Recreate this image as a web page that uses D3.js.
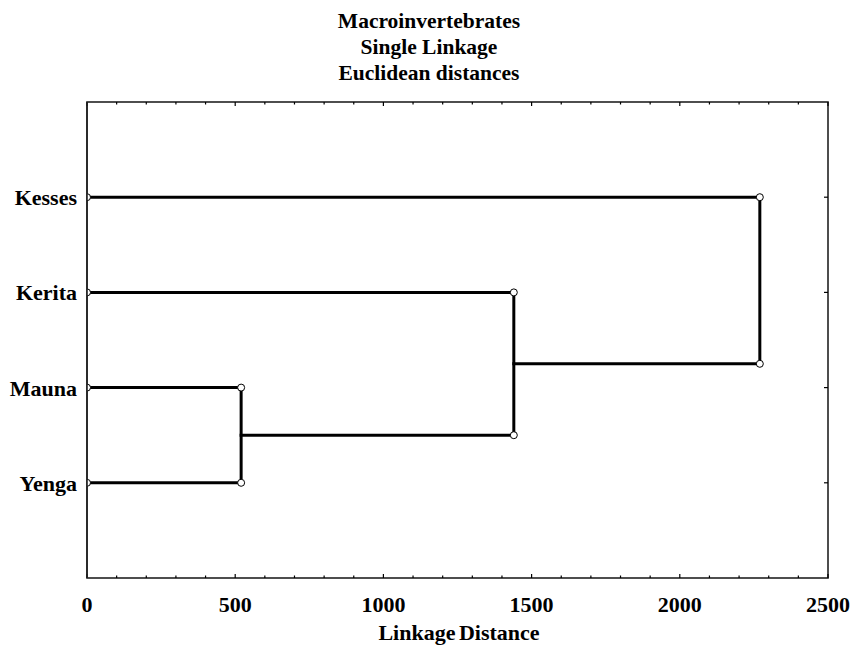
<!DOCTYPE html>
<html>
<head>
    <title>Dendrogram</title>
    <script src="https://d3js.org/d3.v7.min.js"></script>
    <style>
        body { margin: 0; background: #fff; }
        text { font-family: "Liberation Serif", "Times New Roman", serif; font-weight: bold; fill: #000; }
    </style>
</head>
<body>

<script>
// leaves from top to bottom
const leaves = ['Kesses', 'Kerita', 'Mauna', 'Yenga'];
// merge steps: [left cluster, right cluster, linkage distance]
const merges = [
    ['Mauna', 'Yenga', 520],
    ['Kerita', 'Mauna+Yenga', 1440],
    ['Kesses', 'Kerita+Mauna+Yenga', 2270]
];
const xTicks = [0, 500, 1000, 1500, 2000, 2500];
const titleLines = ['Macroinvertebrates', 'Single Linkage', 'Euclidean distances'];

const W = 856, H = 651;
const margin = { top: 102, right: 28, bottom: 73, left: 87 };

const svg = d3.select('body')
    .append('svg')
    .attr('width', W)
    .attr('height', H);

const x = d3.scaleLinear().domain([0, 2500]).range([margin.left, W - margin.right]);
const y = d3.scaleLinear().domain([0, leaves.length + 1]).range([margin.top, H - margin.bottom]);

svg.append('clipPath')
    .attr('id', 'plot')
    .append('rect')
    .attr('x', x(0)).attr('y', y(0))
    .attr('width', x(2500) - x(0))
    .attr('height', y(5) - y(0));

// title
svg.selectAll('.title')
    .data(titleLines)
    .enter()
    .append('text')
    .attr('x', 429)
    .attr('y', (d, i) => 28 + i * 26)
    .attr('text-anchor', 'middle')
    .style('font-size', '21.5px')
    .text(d => d);

// frame
svg.append('rect')
    .attr('x', x(0))
    .attr('y', y(0))
    .attr('width', x(2500) - x(0))
    .attr('height', y(5) - y(0))
    .attr('fill', 'none')
    .attr('stroke', '#222')
    .attr('stroke-width', 1.6);

// minor and major ticks on bottom and top
const minor = d3.range(0, 2501, 100);
svg.selectAll('.tb')
    .data(minor)
    .enter()
    .append('line')
    .attr('x1', d => x(d)).attr('x2', d => x(d))
    .attr('y1', y(5)).attr('y2', d => y(5) - (d % 500 === 0 ? 4 : 2.5))
    .attr('stroke', '#000').attr('stroke-width', 1.2);
svg.selectAll('.tt')
    .data(minor)
    .enter()
    .append('line')
    .attr('x1', d => x(d)).attr('x2', d => x(d))
    .attr('y1', y(0)).attr('y2', d => y(0) + (d % 500 === 0 ? 4 : 2.5))
    .attr('stroke', '#000').attr('stroke-width', 1.2);

// right side ticks at leaf rows
svg.selectAll('.tr')
    .data(leaves)
    .enter()
    .append('line')
    .attr('x1', x(2500)).attr('x2', x(2500) - 4)
    .attr('y1', (d, i) => y(i + 1)).attr('y2', (d, i) => y(i + 1))
    .attr('stroke', '#000').attr('stroke-width', 1.2);

// x tick labels
svg.selectAll('.xl')
    .data(xTicks)
    .enter()
    .append('text')
    .attr('x', d => x(d))
    .attr('y', 612)
    .attr('text-anchor', 'middle')
    .style('font-size', '22px')
    .text(d => d);

svg.append('text')
    .attr('x', 459)
    .attr('y', 640)
    .attr('text-anchor', 'middle')
    .style('font-size', '22px')
    .style('word-spacing', '-2px')
    .text('Linkage Distance');

// leaf labels
svg.selectAll('.yl')
    .data(leaves)
    .enter()
    .append('text')
    .attr('x', 77)
    .attr('y', (d, i) => y(i + 1) + 8)
    .attr('text-anchor', 'end')
    .style('font-size', '22px')
    .text(d => d);

// build cluster positions
const pos = {};
leaves.forEach((d, i) => { pos[d] = { h: 0, y: y(i + 1) }; });

const segs = [];
const dots = [];
leaves.forEach(d => dots.push([x(0), pos[d].y]));

merges.forEach(([a, b, h]) => {
    const A = pos[a], B = pos[b];
    const xh = x(h);
    segs.push([x(A.h), A.y, xh, A.y]);
    segs.push([x(B.h), B.y, xh, B.y]);
    segs.push([xh, A.y, xh, B.y]);
    dots.push([xh, A.y], [xh, B.y]);
    pos[a + '+' + b] = { h: h, y: (A.y + B.y) / 2 };
});

const g = svg.append('g').attr('clip-path', 'url(#plot)');

g.selectAll('.seg')
    .data(segs)
    .enter()
    .append('line')
    .attr('x1', d => d[0]).attr('y1', d => d[1])
    .attr('x2', d => d[2]).attr('y2', d => d[3])
    .attr('stroke', '#000')
    .attr('stroke-width', 3)
    .attr('stroke-linecap', 'square');

g.selectAll('.dot')
    .data(dots)
    .enter()
    .append('circle')
    .attr('cx', d => d[0]).attr('cy', d => d[1])
    .attr('r', 3.5)
    .attr('fill', '#fff')
    .attr('stroke', '#000')
    .attr('stroke-width', 1);

// redraw left frame edge over the leaf dots
svg.append('line')
    .attr('x1', x(0)).attr('x2', x(0))
    .attr('y1', y(0)).attr('y2', y(5))
    .attr('stroke', '#222').attr('stroke-width', 1.6);
</script>

</body>
</html>
